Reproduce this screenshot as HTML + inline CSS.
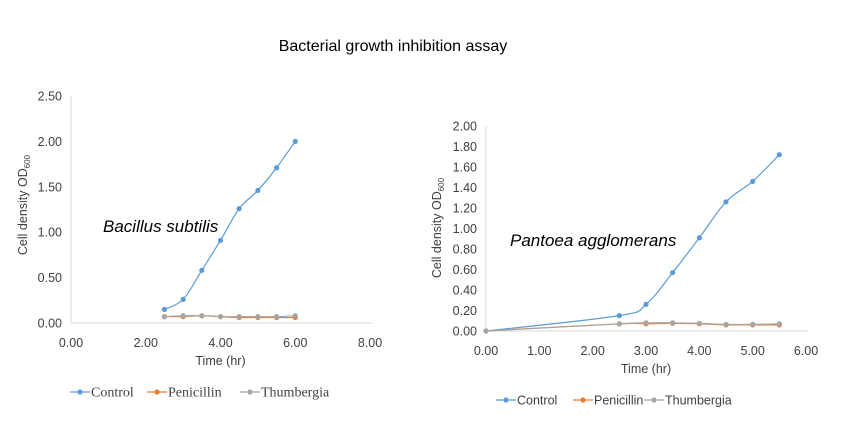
<!DOCTYPE html>
<html><head><meta charset="utf-8"><style>
body{margin:0;background:#fff;width:868px;height:436px;overflow:hidden}
svg{display:block}
text{font-family:"Liberation Sans",sans-serif;fill:#404040}
</style></head><body>
<svg id="c" width="868" height="436">
<text x="393" y="51" text-anchor="middle" font-size="16" style="fill:#000">Bacterial growth inhibition assay</text>
</svg>
<script>
// Bacillus subtilis
const bsTime=[2.5,3,3.5,4,4.5,5,5.5,6];
const bsControl=[0.15,0.26,0.58,0.91,1.26,1.46,1.71,2.00];
const bsPenicillin=[0.07,0.07,0.08,0.07,0.06,0.06,0.06,0.06];
const bsThumbergia=[0.07,0.08,0.08,0.07,0.07,0.07,0.07,0.08];
const bsYTicks=[0,0.5,1,1.5,2,2.5];
const bsXTicks=[0,2,4,6,8];
// Pantoea agglomerans
const paTime=[0,2.5,3,3.5,4,4.5,5,5.5];
const paControl=[0,0.15,0.26,0.57,0.91,1.26,1.46,1.72];
const paPenicillin=[0,0.07,0.07,0.075,0.07,0.06,0.06,0.06];
const paThumbergia=[0,0.07,0.08,0.08,0.075,0.065,0.065,0.07];
const paYTicks=[0,0.2,0.4,0.6,0.8,1,1.2,1.4,1.6,1.8,2];
const paXTicks=[0,1,2,3,4,5,6];

const NS="http://www.w3.org/2000/svg";
const svg=document.getElementById('c');
function mk(tag,attrs,parent,txt){const e=document.createElementNS(NS,tag);for(const k in attrs)e.setAttribute(k,attrs[k]);if(txt!==undefined)e.textContent=txt;(parent||svg).appendChild(e);return e;}
function smooth(p){let d=`M${p[0][0]},${p[0][1]}`;for(let i=0;i<p.length-1;i++){const p0=p[i-1]||p[i],p1=p[i],p2=p[i+1],p3=p[i+2]||p2;const t=6;d+=` C${p1[0]+(p2[0]-p0[0])/t},${p1[1]+(p2[1]-p0[1])/t} ${p2[0]-(p3[0]-p1[0])/t},${p2[1]-(p3[1]-p1[1])/t} ${p2[0]},${p2[1]}`;}return d;}

function chart(cfg){
  const g=mk('g',{});
  
  
  const X=v=>cfg.x0+(v-cfg.xmin)/(cfg.xmax-cfg.xmin)*(cfg.x1-cfg.x0);
  const Y=v=>cfg.y0-(v/cfg.ymax)*(cfg.y0-cfg.y1);
  const ya=mk('line',{x1:cfg.x0,y1:cfg.y1,x2:cfg.x0,y2:cfg.y0,stroke:'#d9d9d9'},g);
  
  const xa=mk('line',{x1:cfg.x0,y1:cfg.y0,x2:cfg.x1+2,y2:cfg.y0,stroke:'#d9d9d9'},g);
  
  cfg.yt.forEach(v=>{const t=mk('text',{x:cfg.x0-9,y:Y(v)+4.5,'text-anchor':'end','font-size':12.5},g,v.toFixed(2));
    });
  cfg.xt.forEach(v=>{const t=mk('text',{x:X(v),y:cfg.y0+24,'text-anchor':'middle','font-size':12.5},g,v.toFixed(2));
    });
  const xt=mk('text',{x:(cfg.x0+cfg.x1)/2,y:cfg.y0+42,'text-anchor':'middle','font-size':12.5},g,'Time (hr)');
  
  const yt=mk('text',{x:0,y:0,'font-size':12.5,'text-anchor':'middle',transform:`translate(${cfg.ylx},${cfg.ylc}) rotate(-90)`},g);
  
  mk('tspan',{},yt,'Cell density OD');mk('tspan',{'font-size':8,dy:3},yt,'600');
  const lab=mk('text',{x:cfg.lx,y:cfg.ly,'font-size':17,'font-style':'italic',style:'fill:#000'},g,cfg.label);
  
  cfg.series.forEach(s=>{
    const pts=cfg.t.map((t,i)=>[X(t),Y(s.v[i])]);
    const p=mk('path',{d:smooth(pts),fill:'none',stroke:s.c,'stroke-width':1.2},g);
    
    pts.forEach(q=>{const c=mk('circle',{cx:q[0],cy:q[1],r:2.6,fill:s.c},g);
      });
  });
  cfg.series.forEach((s,i)=>{const lx=cfg.legX[i];
    const lg=mk('g',{},g);
    mk('line',{x1:lx,y1:cfg.legY,x2:lx+20,y2:cfg.legY,stroke:s.c,'stroke-width':1.2},lg);
    mk('circle',{cx:lx+10,cy:cfg.legY,r:2.6,fill:s.c},lg);
    mk('text',{x:lx+21,y:cfg.legY+4.5,'font-size':cfg.legFS,style:'font-family:'+cfg.legFont+';fill:#404040'},lg,s.n);
  });
}
const cols={c:'#5b9bd5',p:'#ed7d31',t:'#a5a5a5'};
chart({name:'bacillus-chart',x0:71,x1:370,xmin:0,xmax:8,y0:323,y1:96,ymax:2.5,yt:bsYTicks,xt:bsXTicks,t:bsTime,
  series:[{n:'Control',v:bsControl,c:cols.c},{n:'Penicillin',v:bsPenicillin,c:cols.p},{n:'Thumbergia',v:bsThumbergia,c:cols.t}],
  ylx:27,ylc:205,label:'Bacillus subtilis',lx:103,ly:232,legX:[70,147,240],legY:392,legFS:14,legFont:'"Liberation Serif",serif'});
chart({name:'pantoea-chart',x0:486,x1:806,xmin:0,xmax:6,y0:331,y1:126,ymax:2,yt:paYTicks,xt:paXTicks,t:paTime,
  series:[{n:'Control',v:paControl,c:cols.c},{n:'Penicillin',v:paPenicillin,c:cols.p},{n:'Thumbergia',v:paThumbergia,c:cols.t}],
  ylx:441,ylc:228,label:'Pantoea agglomerans',lx:510,ly:246,legX:[496,573,644],legY:400,legFS:12.5,legFont:'"Liberation Sans",sans-serif'});
</script>
</body></html>
